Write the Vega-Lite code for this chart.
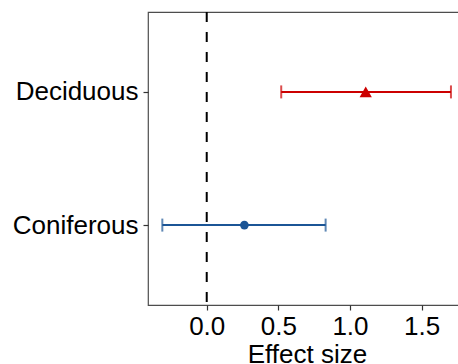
{
  "$schema": "https://vega.github.io/schema/vega-lite/v6.json",
  "autosize": "none",
  "padding": {"left": 148, "top": 12, "right": 0, "bottom": 59},
  "width": 318,
  "height": 293,
  "background": "white",
  "config": {
    "view": {"stroke": "#4d4d4d", "strokeWidth": 1.2},
    "font": "Liberation Sans",
    "axis": {
      "labelFont": "Liberation Sans",
      "titleFont": "Liberation Sans",
      "labelColor": "black",
      "titleColor": "black",
      "labelFontSize": 26,
      "titleFontSize": 26,
      "titleFontWeight": "normal",
      "grid": false,
      "domain": false,
      "tickColor": "#333333",
      "tickSize": 5,
      "tickWidth": 1.2
    }
  },
  "data": {
    "values": [
      {"group": "Deciduous", "estimate": 1.11, "lower": 0.52, "upper": 1.705},
      {"group": "Coniferous", "estimate": 0.263, "lower": -0.31, "upper": 0.83}
    ]
  },
  "encoding": {
    "y": {
      "field": "group",
      "type": "nominal",
      "sort": ["Deciduous", "Coniferous"],
      "scale": {"type": "point", "padding": 0.6},
      "axis": {"title": null, "labelPadding": 5}
    }
  },
  "layer": [
    {
      "data": {"values": [{"zero": 0}]},
      "mark": {"type": "rule", "color": "black", "strokeWidth": 2, "strokeDash": [10, 10]},
      "encoding": {
        "x": {"field": "zero", "type": "quantitative"},
        "y": null
      }
    },
    {
      "mark": {"type": "rule", "strokeWidth": 2},
      "encoding": {
        "x": {
          "field": "lower",
          "type": "quantitative",
          "scale": {"domain": [-0.41, 1.81], "nice": false, "zero": false},
          "axis": {"title": "Effect size", "values": [0, 0.5, 1, 1.5], "format": ".1f", "labelPadding": 3, "titlePadding": 2}
        },
        "x2": {"field": "upper"},
        "color": {"field": "group", "type": "nominal", "scale": {"domain": ["Deciduous", "Coniferous"], "range": ["#CC0000", "#1B5596"]}, "legend": null}
      }
    },
    {
      "mark": {"type": "tick", "thickness": 2, "size": 13, "orient": "vertical"},
      "encoding": {
        "x": {"field": "lower", "type": "quantitative"},
        "color": {"field": "group", "type": "nominal", "legend": null}
      }
    },
    {
      "mark": {"type": "tick", "thickness": 2, "size": 13, "orient": "vertical"},
      "encoding": {
        "x": {"field": "upper", "type": "quantitative"},
        "color": {"field": "group", "type": "nominal", "legend": null}
      }
    },
    {
      "mark": {"type": "point", "filled": true, "opacity": 1},
      "encoding": {
        "x": {"field": "estimate", "type": "quantitative"},
        "color": {"field": "group", "type": "nominal", "legend": null},
        "shape": {"field": "group", "type": "nominal", "scale": {"domain": ["Deciduous", "Coniferous"], "range": ["triangle-up", "circle"]}, "legend": null},
        "size": {"field": "group", "type": "nominal", "scale": {"domain": ["Deciduous", "Coniferous"], "range": [150, 75]}, "legend": null}
      }
    }
  ]
}
